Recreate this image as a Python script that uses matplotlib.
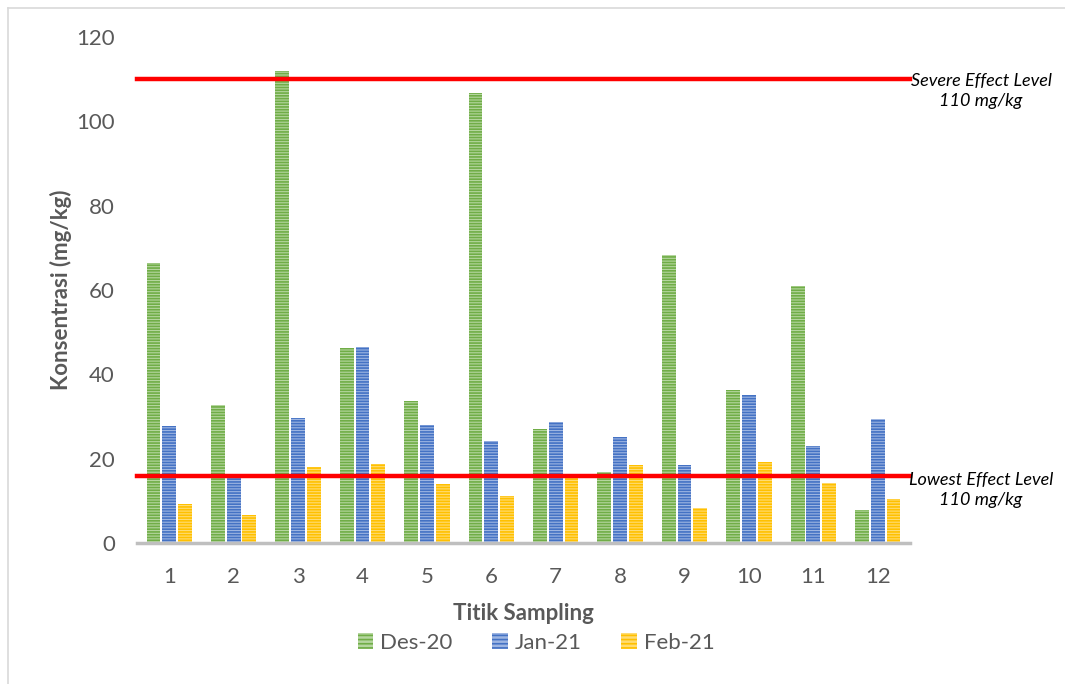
import numpy as np
import matplotlib
matplotlib.use("Agg")
import matplotlib.pyplot as plt
from matplotlib.patches import Patch
from matplotlib.lines import Line2D

# Data
titik = ["1", "2", "3", "4", "5", "6", "7", "8", "9", "10", "11", "12"]
des_20 = [66.4, 32.7, 111.9, 46.2, 33.7, 106.7, 27.0, 16.8, 68.3, 36.3, 60.9, 7.8]
jan_21 = [27.7, 15.4, 29.6, 46.5, 28.0, 24.2, 28.7, 25.1, 18.5, 35.1, 23.0, 29.4]
feb_21 = [9.2, 6.6, 18.0, 18.7, 14.0, 11.1, 15.4, 18.5, 8.3, 19.2, 14.2, 10.4]
series_names = ["Des-20", "Jan-21", "Feb-21"]
severe_level = 110
lowest_level = 16
y_ticks = [0, 20, 40, 60, 80, 100, 120]

dark_colors = ["#70AD47", "#4472C4", "#FFC000"]
light_colors = ["#B5D69F", "#9DB5E2", "#FFDC73"]

plt.rcParams["font.family"] = ["Lato", "DejaVu Sans"]
plt.rcParams["hatch.linewidth"] = 1.2

fig = plt.figure(figsize=(10.65, 6.84), dpi=100)
ax = fig.add_axes([137 / 1065, 1 - 543 / 684, (910 - 137) / 1065, (543 - 37) / 684])

x = np.arange(len(titik))
offsets = [-0.245, 0.0, 0.245]
width = 0.215
hatch = "------"

for vals, off, dc, lc in zip([des_20, jan_21, feb_21], offsets, dark_colors, light_colors):
    ax.bar(x + off, vals, width, color=lc, edgecolor="none", zorder=2)
    ax.bar(x + off, vals, width, facecolor="none", edgecolor=dc, hatch=hatch,
           linewidth=0, zorder=3)

# Reference levels
ax.axhline(severe_level, color="#FF0000", linewidth=3.2, zorder=4, clip_on=False)
ax.axhline(lowest_level, color="#FF0000", linewidth=3.2, zorder=4, clip_on=False)

ax.set_xlim(-0.5, len(titik) - 0.5)
ax.set_ylim(0, 120)
ax.set_yticks(y_ticks)
ax.set_xticks(x)
ax.set_xticklabels(titik)

for s in ["top", "right", "left"]:
    ax.spines[s].set_visible(False)
ax.spines["bottom"].set_color("#BFBFBF")
ax.spines["bottom"].set_linewidth(2.5)
ax.spines["bottom"].set_zorder(5)
ax.tick_params(axis="both", length=0, labelsize=16, labelcolor="#595959")
ax.tick_params(axis="y", pad=16)
ax.tick_params(axis="x", pad=17)

ax.set_ylabel("Konsentrasi (mg/kg)", fontsize=16, fontweight="bold", color="#595959", labelpad=3)
ax.set_xlabel("Titik Sampling", fontsize=16, fontweight="bold", color="#595959", labelpad=12)

# Level annotations to the right of the plot
fig.text(981 / 1065, 1 - 91 / 684, "Severe Effect Level\n110 mg/kg", ha="center", va="center",
         fontsize=13, style="italic", color="black", linespacing=1.3)
fig.text(981 / 1065, 1 - 490 / 684, "Lowest Effect Level\n110 mg/kg", ha="center", va="center",
         fontsize=13, style="italic", color="black", linespacing=1.3)

handles = [Patch(facecolor=lc, edgecolor=dc, hatch="----", linewidth=0)
           for dc, lc in zip(dark_colors, light_colors)]
fig.legend(handles, series_names, loc="center", bbox_to_anchor=(536 / 1065, 1 - 643 / 684),
           ncol=3, frameon=False, fontsize=16, handlelength=0.7, handleheight=0.7,
           handletextpad=0.3, columnspacing=1.8, labelcolor="#595959")

# Chart-area border (top and left edges)
fig.add_artist(Line2D([7.5 / 1065, 1.0], [1 - 7.5 / 684, 1 - 7.5 / 684],
                      transform=fig.transFigure, color="#D9D9D9", linewidth=1.2))
fig.add_artist(Line2D([7.5 / 1065, 7.5 / 1065], [0.0, 1 - 7.5 / 684],
                      transform=fig.transFigure, color="#D9D9D9", linewidth=1.2))

fig.savefig("out.png", dpi=100)
